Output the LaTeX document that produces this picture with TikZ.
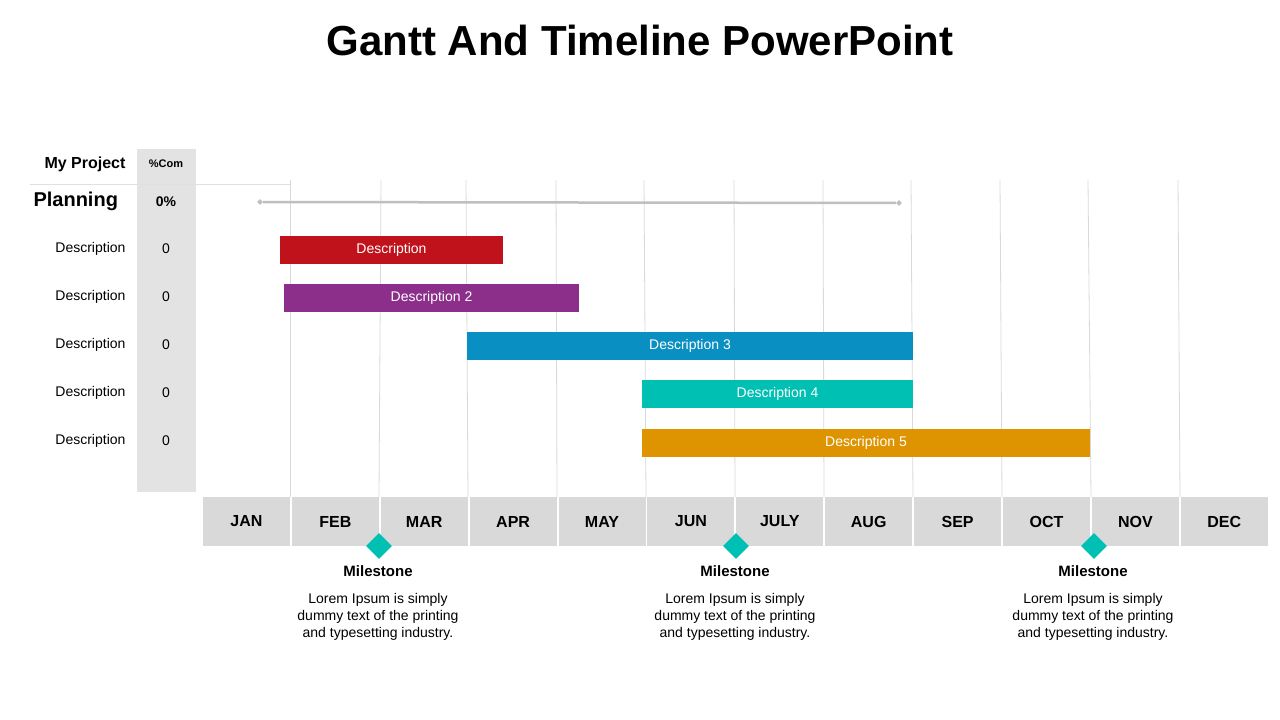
\documentclass[tikz,border=0pt]{standalone}
\usepackage{fontspec}
\setmainfont{Liberation Sans}
\usetikzlibrary{shapes.geometric}
\definecolor{cred}{HTML}{C0121B}
\definecolor{cpur}{HTML}{8B2F8B}
\definecolor{cblue}{HTML}{0A8FC2}
\definecolor{cteal}{HTML}{00BFB3}
\definecolor{corg}{HTML}{DE9400}
\definecolor{cgray}{HTML}{D9D9D9}
\definecolor{ccol}{HTML}{E3E3E3}
\tikzset{
 bar/.style={inner sep=0pt,text=white,font=\fontsize{14}{16}\selectfont},
 month/.style={fill=cgray,minimum width=87pt,minimum height=49pt,inner sep=0pt,font=\bfseries\fontsize{16}{18}\selectfont},
 desc/.style={anchor=east,font=\fontsize{14}{16}\selectfont},
 zero/.style={font=\fontsize{14}{16}\selectfont},
 mile/.style={diamond,fill=cteal,minimum width=26pt,minimum height=26pt,inner sep=0pt},
 mlab/.style={font=\bfseries\fontsize{15}{17}\selectfont},
 mtxt/.style={align=center,font=\fontsize{14}{17}\selectfont},
 grid/.style={draw=black!15,line width=0.8pt}
}
\begin{document}
\begin{tikzpicture}[x=1pt,y=-1pt]
\useasboundingbox (0,0) rectangle (1280,720);
\node[font=\bfseries\fontsize{42}{48}\selectfont] (title) at (640,40) {Gantt And Timeline PowerPoint};
% gray column
\fill[ccol] (137,149) rectangle (196,492);
\draw[black!12,line width=0.8pt] (30,184) -- (290,184);
% grid lines
\foreach \a/\b in {290/290,381/379,466/468,556/557,644/646,734/735,823/824,911/913,1000/1002,1088/1091,1178/1180}
 \draw[grid] (\a,180) -- (\b,497);
% header
\node[anchor=east,font=\bfseries\fontsize{16}{18}\selectfont] (myp) at (129,164) {My Project};
\node[font=\bfseries\fontsize{11}{13}\selectfont] (com) at (166,164) {\%Com};
\node[anchor=west,font=\bfseries\fontsize{20}{24}\selectfont] (plan) at (30,201) {Planning};
\node[font=\bfseries\fontsize{14}{16}\selectfont] (pct) at (166,202) {0\%};
% planning line
\node[diamond,fill=black!25,minimum size=6pt,inner sep=0pt] (p1) at (260,202) {};
\node[diamond,fill=black!25,minimum size=6pt,inner sep=0pt] (p2) at (899,203) {};
\draw[black!25,line width=2.5pt] (p1) -- (p2);
% rows
\foreach \y/\n in {249/1,297/2,345/3,393/4,441/5}{
 \node[desc] (d\n) at (129,\y) {Description};
 \node[zero] (z\n) at (166,\y) {0};
}
% bars
\fill[cred] (280,236) rectangle (503,264); \node[bar] (b1) at (391.5,250) {Description};
\fill[cpur] (284,284) rectangle (579,312); \node[bar] (b2) at (431.5,298) {Description 2};
\fill[cblue] (467,332) rectangle (913,360); \node[bar] (b3) at (690,346) {Description 3};
\fill[cteal] (642,380) rectangle (913,408); \node[bar] (b4) at (777.5,394) {Description 4};
\fill[corg] (642,429) rectangle (1090,457); \node[bar] (b5) at (866,443) {Description 5};
% months
\foreach \m [count=\i] in {JAN,FEB,MAR,APR,MAY,JUN,JULY,AUG,SEP,OCT,NOV,DEC}
 \node[month] (m\i) at ({202+44.4+(\i-1)*88.9},521.5) {\m};
% milestones
\foreach \x/\n in {379/1,736/2,1094/3}{
 \node[mile] (ms\n) at (\x,546) {};
 \node[mlab] (ml\n) at (\x-1,571) {Milestone};
 \node[mtxt] (mt\n) at (\x-1,617) {Lorem Ipsum is simply\\dummy text of the printing\\and typesetting industry.};
}
\end{tikzpicture}
\end{document}
